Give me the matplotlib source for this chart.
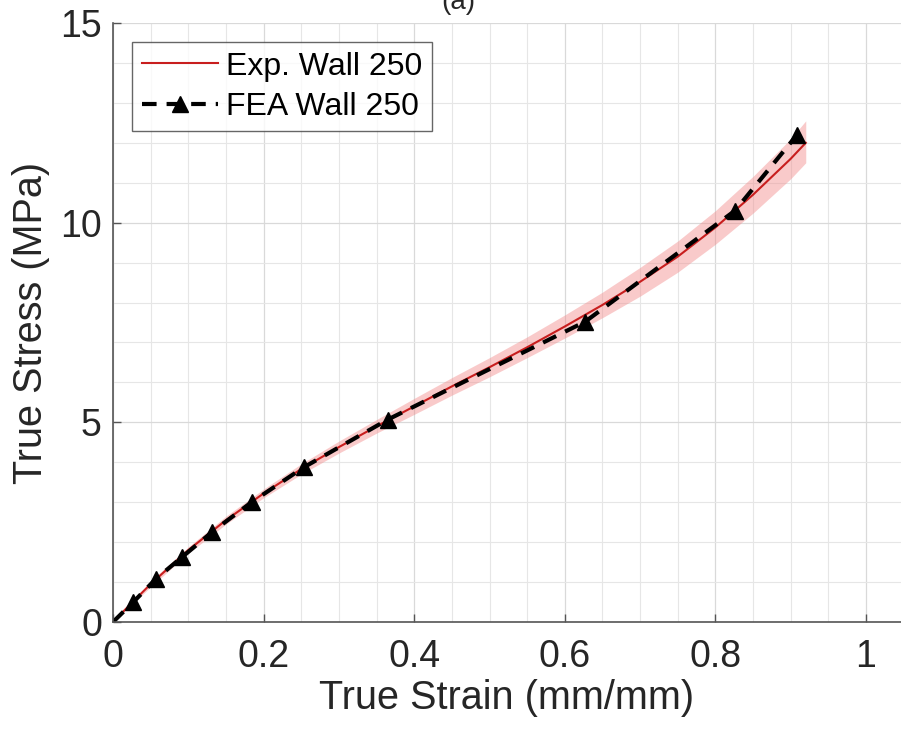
import numpy as np
import matplotlib.pyplot as plt
from matplotlib.ticker import MultipleLocator

exp_strain = [0, 0.025, 0.05, 0.1, 0.15, 0.2, 0.25, 0.3, 0.35, 0.4, 0.45,
              0.5, 0.55, 0.6, 0.65, 0.7, 0.75, 0.8, 0.85, 0.9, 0.92]
exp_stress = [0, 0.48, 0.95, 1.8, 2.55, 3.22, 3.83, 4.38, 4.9, 5.4, 5.9,
              6.38, 6.88, 7.4, 7.94, 8.52, 9.15, 9.88, 10.7, 11.6, 12.0]
exp_upper = [0, 0.52, 1.02, 1.88, 2.65, 3.33, 3.96, 4.53, 5.07, 5.6, 6.12,
             6.62, 7.14, 7.69, 8.26, 8.88, 9.54, 10.3, 11.16, 12.1, 12.55]
exp_lower = [0, 0.44, 0.88, 1.72, 2.45, 3.11, 3.7, 4.23, 4.73, 5.2, 5.68,
             6.14, 6.62, 7.11, 7.62, 8.16, 8.76, 9.46, 10.24, 11.1, 11.5]

# FEA results
fea_strain = [0, 0.027, 0.057, 0.092, 0.132, 0.184, 0.253, 0.365, 0.627, 0.826, 0.908]
fea_stress = [0, 0.5, 1.08, 1.63, 2.26, 3.0, 3.87, 5.07, 7.52, 10.3, 12.19]

plt.rcParams['font.family'] = ['Liberation Sans', 'DejaVu Sans']

fig = plt.figure(figsize=(9.01, 7.35), dpi=100)
ax = fig.add_axes([113 / 901, 1 - 622 / 735, 788 / 901, 599 / 735])

ax.fill_between(exp_strain, exp_lower, exp_upper, color='#f28b8b', alpha=0.45, lw=0)
ax.plot(exp_strain, exp_stress, color='#c81e1e', lw=1.5, label='Exp. Wall 250')
ax.plot(fea_strain, fea_stress, color='black', ls=(0, (3.5, 2.4)), lw=3,
        marker='^', markersize=11, markevery=list(range(1, len(fea_strain))),
        label='FEA Wall 250')

ax.set_xlim(0, 788 / 753)
ax.set_ylim(0, 15)
ax.xaxis.set_minor_locator(MultipleLocator(0.05))
ax.yaxis.set_major_locator(MultipleLocator(5))
ax.yaxis.set_minor_locator(MultipleLocator(1))
ax.set_xticks([0, 0.2, 0.4, 0.6, 0.8, 1.0])
ax.set_xticklabels(['0', '0.2', '0.4', '0.6', '0.8', '1'])

ax.grid(which='major', color='#d9d9d9', lw=0.9)
ax.grid(which='minor', color='#e6e6e6', lw=0.8)
ax.set_axisbelow(True)

for s in ['top', 'right']:
    ax.spines[s].set_visible(False)
for s in ['left', 'bottom']:
    ax.spines[s].set_color('#555555')
    ax.spines[s].set_linewidth(1.2)

ax.tick_params(which='major', direction='in', length=6, width=1, colors='#555555',
               labelcolor='#262626', labelsize=27)
ax.tick_params(axis='x', which='major', pad=12)
ax.tick_params(axis='y', which='major', pad=8)
ax.tick_params(which='minor', length=0)

ax.set_xlabel('True Strain (mm/mm)', fontsize=28.5, color='#262626', labelpad=3)
ax.set_ylabel('True Stress (MPa)', fontsize=28.5, color='#262626', labelpad=7)

leg = ax.legend(loc='upper left', bbox_to_anchor=(19 / 788, 1 - 19 / 599),
                borderaxespad=0, fontsize=23, frameon=True, fancybox=False,
                edgecolor='#404040', handlelength=2.4, handletextpad=0.25,
                labelspacing=0.32, borderpad=0.3, numpoints=1)
leg.get_frame().set_linewidth(1.0)

fig.text(458 / 901, 1 - 9 / 735, '(a)', fontsize=20, color='#262626',
         ha='center', va='baseline')

plt.savefig('out.png', dpi=100)
